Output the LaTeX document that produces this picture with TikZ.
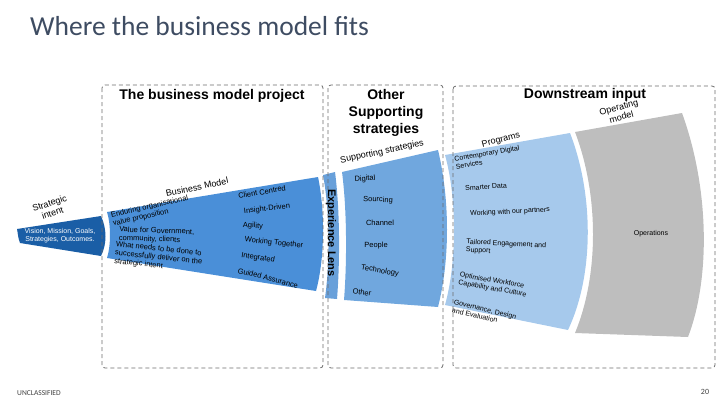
\documentclass[tikz,border=0pt]{standalone}
\usepackage{fontspec}
\setmainfont{Liberation Sans}
\newfontfamily\titlefont{Carlito}

\definecolor{intentblue}{RGB}{26,94,166}
\definecolor{modelblue}{RGB}{74,143,216}
\definecolor{lensblue}{RGB}{104,160,218}
\definecolor{supblue}{RGB}{112,167,222}
\definecolor{progblue}{RGB}{166,201,236}
\definecolor{opgrey}{RGB}{190,190,190}
\definecolor{titlegrey}{RGB}{62,76,98}

\begin{document}
\begin{tikzpicture}[x=1pt,y=-1pt,
    box/.style={draw=black!58,line width=0.8pt,dash pattern=on 4pt off 3pt,rounded corners=3pt},
    hdr/.style={font=\bfseries\fontsize{14}{17}\selectfont,inner sep=0pt,align=center},
    tag/.style={font=\fontsize{9}{10}\selectfont,inner sep=0pt,align=center},
    item/.style={font=\fontsize{7.5}{8.5}\selectfont,inner sep=0pt,align=left},
    tiny/.style={font=\fontsize{7}{8}\selectfont,inner sep=0pt,align=left}]
  \useasboundingbox (0,0) rectangle (720,405);

  % the fan, from left to right
  \fill[intentblue] (17,229) -- (101,216) .. controls (107,229) and (107,244) .. (101,256)
    -- (20,243) .. controls (18,238) and (18,234) .. (17,229) -- cycle;
  \fill[modelblue] (107,212) -- (318,177) .. controls (325,210) and (325,258) .. (316,291)
    -- (107,258) .. controls (111,245) and (111,225) .. (107,212) -- cycle;
  \fill[lensblue] (323,175) -- (335,172) .. controls (340,210) and (340,262) .. (337,299)
    -- (325,298) .. controls (330,262) and (330,212) .. (323,175) -- cycle;
  \fill[supblue] (342,172) -- (438,150) .. controls (450,200) and (450,260) .. (438,307)
    -- (344,300) .. controls (347,262) and (347,210) .. (342,172) -- cycle;
  \fill[progblue] (445,155) -- (570,133) .. controls (594,195) and (594,275) .. (568,330)
    -- (445,305) .. controls (457,262) and (457,198) .. (445,155) -- cycle;
  \fill[opgrey] (575,132) -- (682,113) .. controls (710,190) and (710,280) .. (688,337)
    -- (575,333) .. controls (599,275) and (599,195) .. (575,132) -- cycle;

  % dashed frames
  \draw[box] (102,85) rectangle (323,368);
  \draw[box] (328,85) rectangle (443,368);
  \draw[box] (453,86) rectangle (715,368);

  \node[anchor=base west,inner sep=0pt,text=titlegrey,font=\titlefont\fontsize{27.5}{30}\selectfont]
    (title) at (30,35) {Where the business model fits};
  \node[hdr] (hproject) at (212,96) {The business model project};
  \node[hdr] (hother) at (386,113) {Other\\Supporting\\strategies};
  \node[hdr] (hdown) at (585,95) {Downstream input};

  % strategic intent
  \node[tag,rotate=18] (intent) at (51,208) {Strategic\\intent};
  \node[tiny,align=center,text=white] (vision) at (60,236) {Vision, Mission, Goals,\\Strategies, Outcomes.};

  % business model
  \node[tag,rotate=12] (bmodel) at (197,187) {Business Model};
  \node[item,rotate=13,anchor=west] (enduring) at (112,220) {Enduring organisational\\value proposition};
  \node[item,rotate=-2,anchor=west] (value) at (119,234) {Value for Government,\\community, clients};
  \node[item,rotate=-6,anchor=west] (whatneeds) at (115,253) {What needs to be done to\\successfully deliver on the\\strategic intent};
  \node[item,rotate=10] (client) at (262,192) {Client Centred};
  \node[item,rotate=6] (insight) at (267,209) {Insight-Driven};
  \node[item,rotate=-2] (agility) at (253,226) {Agility};
  \node[item,rotate=-6] (together) at (274,243) {Working Together};
  \node[item,rotate=-9] (integrated) at (258,258) {Integrated};
  \node[item,rotate=-14] (assurance) at (268,278) {Guided Assurance};
  \node[font=\bfseries\fontsize{11}{12}\selectfont,inner sep=0pt,rotate=-90] (lens) at (331,233) {Experience Lens};

  % supporting strategies
  \node[tag,rotate=12] (suplabel) at (382,152) {Supporting strategies};
  \node[item,rotate=5] (digital) at (365,179) {Digital};
  \node[item,rotate=-3] (sourcing) at (378,200) {Sourcing};
  \node[item] (channel) at (380,223) {Channel};
  \node[item] (people) at (376,246) {People};
  \node[item,rotate=-10] (technology) at (380,271) {Technology};
  \node[item,rotate=-10] (other) at (362,292) {Other};

  % programs
  \node[tag,rotate=15] (programs) at (501,140) {Programs};
  \node[tiny,rotate=10,anchor=west] (contemp) at (455,163) {Contemporary Digital\\Services};
  \node[tiny,rotate=4] (smarter) at (486,187) {Smarter Data};
  \node[tiny,rotate=3] (partners) at (510,212) {Working with our partners};
  \node[tiny,rotate=-3,anchor=west] (tailored) at (466,246) {Tailored Engagement and\\Support};
  \node[tiny,rotate=-10,anchor=west] (workforce) at (459,279) {Optimised Workforce\\Capability and Culture};
  \node[tiny,rotate=-13,anchor=west] (governance) at (453,306) {Governance, Design\\and Evaluation};

  % operating model
  \node[tag,rotate=15] (opmodel) at (620,112) {Operating\\model};
  \node[tiny] (operations) at (651,234) {Operations};

  \node[anchor=west,inner sep=0pt,text=black!75,font=\titlefont\fontsize{7.5}{8}\selectfont] (unclass) at (17,393) {UNCLASSIFIED};
  \node[inner sep=0pt,text=black!75,font=\titlefont\fontsize{8}{9}\selectfont] (pagenum) at (705,392) {20};
\end{tikzpicture}
\end{document}
